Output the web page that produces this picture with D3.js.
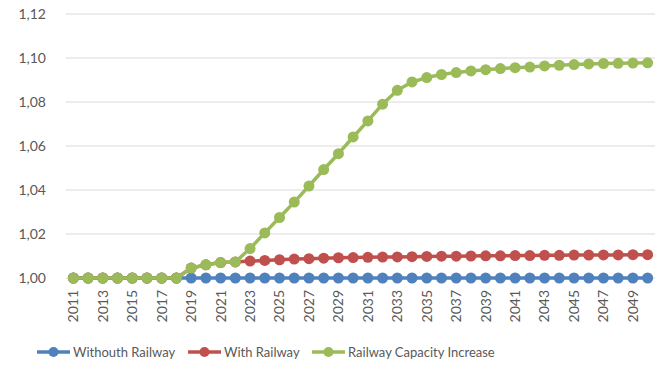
<!DOCTYPE html>
<html>
<head>
<meta charset="utf-8">
<script src="https://cdn.jsdelivr.net/npm/d3@7"></script>
<style>
  html, body { margin: 0; padding: 0; background: #fff; }
  svg { display: block; font-family: Lato, "Open Sans", sans-serif; }
</style>
</head>
<body>
<svg id="chart" width="663" height="371"></svg>
<script>
// Years on the category axis
const years = d3.range(2011, 2051);

// Index values per scenario
const withoutRailway = [
  1.000, 1.000, 1.000, 1.000, 1.000, 1.000, 1.000, 1.000, 1.000, 1.000,
  1.000, 1.000, 1.000, 1.000, 1.000, 1.000, 1.000, 1.000, 1.000, 1.000,
  1.000, 1.000, 1.000, 1.000, 1.000, 1.000, 1.000, 1.000, 1.000, 1.000,
  1.000, 1.000, 1.000, 1.000, 1.000, 1.000, 1.000, 1.000, 1.000, 1.000
];
const withRailway = [
  1.000, 1.000, 1.000, 1.000, 1.000, 1.000, 1.000, 1.000, 1.0045, 1.006,
  1.007, 1.0073, 1.0077, 1.0080, 1.0083, 1.0086, 1.0088, 1.0090, 1.0092, 1.0093,
  1.0094, 1.0095, 1.0096, 1.0097, 1.0098, 1.0099, 1.0099, 1.0100, 1.0101, 1.0101,
  1.0102, 1.0102, 1.0103, 1.0103, 1.0104, 1.0104, 1.0105, 1.0105, 1.0106, 1.0106
];
const capacityIncrease = [
  1.000, 1.000, 1.000, 1.000, 1.000, 1.000, 1.000, 1.000, 1.0045, 1.006,
  1.007, 1.0073, 1.0134, 1.0205, 1.0275, 1.0345, 1.0418, 1.0493, 1.0565, 1.0641,
  1.0714, 1.0790, 1.0853, 1.0891, 1.0911, 1.0925, 1.0934, 1.0941, 1.0947, 1.0952,
  1.0956, 1.0959, 1.0964, 1.0967, 1.0970, 1.0973, 1.0975, 1.0976, 1.0977, 1.0978
];

const seriesNames = ["Withouth Railway", "With Railway", "Railway Capacity Increase"];
const seriesColors = ["#4F81BD", "#C0504D", "#9BBB59"];
const yTicks = [1.00, 1.02, 1.04, 1.06, 1.08, 1.10, 1.12];
const xTickYears = years.filter(y => y % 2 === 1);

const series = [withoutRailway, withRailway, capacityIncrease].map((vals, i) => ({
  name: seriesNames[i],
  color: seriesColors[i],
  values: vals.map((v, j) => ({ year: years[j], value: v }))
}));

const svg = d3.select("#chart");
const plot = { left: 66, right: 655, top: 14, bottom: 278 };

const x = d3.scaleBand().domain(years).range([plot.left, plot.right]);
const y = d3.scaleLinear().domain([1.00, 1.12]).range([plot.bottom, plot.top]);
const fmt = d => d3.format(".2f")(d).replace(".", ",");

// Horizontal gridlines
svg.append("g")
  .selectAll("line")
  .data(yTicks)
  .join("line")
  .attr("x1", plot.left).attr("x2", plot.right)
  .attr("y1", d => y(d)).attr("y2", d => y(d))
  .attr("stroke", "#D9D9D9").attr("stroke-width", 1);

// Y axis labels
const yAxis = svg.append("g")
  .attr("transform", `translate(${plot.left - 20},0)`)
  .call(d3.axisLeft(y).tickValues(yTicks).tickFormat(fmt).tickSize(0).tickPadding(0));
yAxis.select(".domain").remove();
yAxis.selectAll("text")
  .attr("fill", "#595959").attr("font-size", 14)
  .attr("font-family", "Lato, 'Open Sans', sans-serif");

// X axis labels, rotated
const xAxis = svg.append("g")
  .attr("transform", `translate(0,${plot.bottom + 12})`)
  .call(d3.axisBottom(x).tickValues(xTickYears).tickSize(0).tickPadding(0));
xAxis.select(".domain").remove();
xAxis.selectAll("text")
  .attr("fill", "#595959").attr("font-size", 14)
  .attr("font-family", "Lato, 'Open Sans', sans-serif")
  .attr("transform", "rotate(-90)")
  .attr("text-anchor", "end")
  .attr("dy", "0.35em")
  .attr("x", 0).attr("y", 0);

// Series lines and markers
const line = d3.line()
  .x(d => x(d.year) + x.bandwidth() / 2)
  .y(d => y(d.value));

const sg = svg.append("g")
  .selectAll("g")
  .data(series)
  .join("g");

sg.append("path")
  .attr("d", d => line(d.values))
  .attr("fill", "none")
  .attr("stroke", d => d.color)
  .attr("stroke-width", 3.5)
  .attr("stroke-linejoin", "round");

sg.selectAll("circle")
  .data(d => d.values.map(v => ({ ...v, color: d.color })))
  .join("circle")
  .attr("cx", d => x(d.year) + x.bandwidth() / 2)
  .attr("cy", d => y(d.value))
  .attr("r", 5.5)
  .attr("fill", d => d.color);

// Legend
const legendX = [37, 188, 312];
const legendY = 352;
const lg = svg.append("g")
  .selectAll("g")
  .data(series)
  .join("g")
  .attr("transform", (d, i) => `translate(${legendX[i]},${legendY})`);
lg.append("line")
  .attr("x1", 0).attr("x2", 33).attr("y1", 0).attr("y2", 0)
  .attr("stroke", d => d.color).attr("stroke-width", 3.5);
lg.append("circle")
  .attr("cx", 16.5).attr("cy", 0).attr("r", 5)
  .attr("fill", d => d.color);
lg.append("text")
  .attr("x", 36).attr("y", 0).attr("dy", "0.35em")
  .attr("fill", "#595959").attr("font-size", 13)
  .text(d => d.name);
</script>
</body>
</html>
